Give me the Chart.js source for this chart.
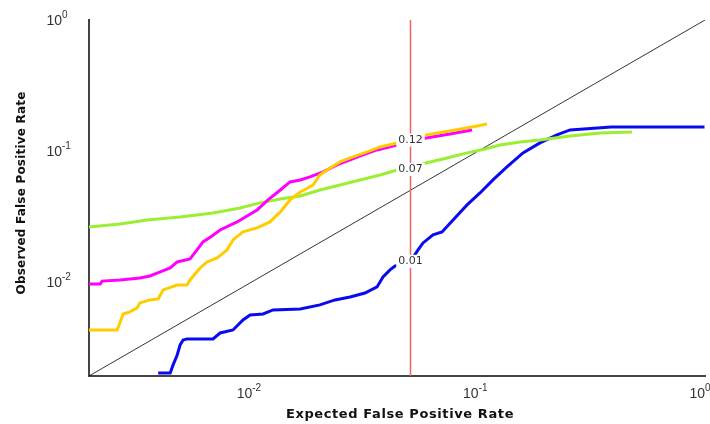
<!DOCTYPE html>
<html>
<head>
<meta charset="utf-8">
<script src="https://cdn.jsdelivr.net/npm/chart.js@4/dist/chart.umd.min.js"></script>
<style>
  html, body { margin: 0; padding: 0; background: #fff; }
  #wrap { width: 710px; height: 424px; position: relative; }
</style>
</head>
<body>
<div id="wrap"><canvas id="chart" width="710" height="424"></canvas></div>
<script>
// Axis range (both axes share it) and the nominal threshold
const AXIS_MIN = 0.0019;
const AXIS_MAX = 1;
const THRESHOLD = 0.05;

// Tick labels: value and exponent shown as 10^exp
const tickValues = [0.01, 0.1, 1];
const tickExponents = ['-2', '-1', '0'];

const xTitle = 'Expected False Positive Rate';
const yTitle = 'Observed False Positive Rate';

// Blue series
const blueX = [0.00384, 0.00434, 0.00447, 0.00466, 0.0048, 0.00495, 0.00515, 0.00671, 0.00721, 0.00822,
  0.0091, 0.00978, 0.01116, 0.01235, 0.0163, 0.0199, 0.02321, 0.02704, 0.03148, 0.03558,
  0.03781, 0.04059, 0.04274, 0.04731, 0.05, 0.054, 0.0568, 0.0629, 0.0689, 0.0771,
  0.0889, 0.1014, 0.1157, 0.1334, 0.157, 0.1866, 0.2219, 0.2535, 0.385, 0.995];
const blueY = [0.0020, 0.0020, 0.00231, 0.00275, 0.00328, 0.00358, 0.00365, 0.00365, 0.00405, 0.00427,
  0.00509, 0.00556, 0.00566, 0.00608, 0.00618, 0.00664, 0.00725, 0.00764, 0.00819, 0.00911,
  0.01086, 0.01229, 0.01318, 0.01341, 0.0143, 0.01747, 0.01976, 0.02275, 0.02399, 0.0296,
  0.03858, 0.04765, 0.0599, 0.0753, 0.0964, 0.1149, 0.1323, 0.1444, 0.1523, 0.1523];

// Green series
const greenX = [0.0019, 0.00261, 0.00343, 0.0048, 0.00671, 0.00883, 0.0108, 0.0133, 0.0163, 0.0199,
  0.0244, 0.0299, 0.0367, 0.0436, 0.05, 0.0586, 0.0725, 0.0889, 0.1067, 0.1242,
  0.1523, 0.1866, 0.2535, 0.3437, 0.4756];
const greenY = [0.0262, 0.0276, 0.0296, 0.0312, 0.0335, 0.0366, 0.0400, 0.0429, 0.0452, 0.0502,
  0.0548, 0.0599, 0.0654, 0.0714, 0.0720, 0.0808, 0.0882, 0.0964, 0.1034, 0.1109,
  0.1169, 0.1211, 0.1300, 0.1371, 0.1395];

// Magenta series
const magentaX = [0.0019, 0.00213, 0.00217, 0.00261, 0.00319, 0.00353, 0.00392, 0.00434, 0.00466, 0.00531,
  0.0057, 0.00606, 0.00664, 0.00721, 0.00857, 0.0105, 0.01174, 0.0133, 0.01468, 0.0163,
  0.01799, 0.02055, 0.02367, 0.02704, 0.03085, 0.03558, 0.04186, 0.05, 0.0586, 0.0747, 0.0935];
const magentaY = [0.0096, 0.0096, 0.0101, 0.0103, 0.01067, 0.01105, 0.01186, 0.01273, 0.01414, 0.01491,
  0.01747, 0.02011, 0.02235, 0.02485, 0.0286, 0.03532, 0.04213, 0.0502, 0.05783, 0.0599,
  0.06317, 0.06899, 0.07798, 0.08518, 0.09302, 0.1016, 0.1090, 0.1190, 0.1255, 0.1346, 0.1444];

// Yellow series
const yellowX = [0.0019, 0.00253, 0.00261, 0.00269, 0.00288, 0.0031, 0.00319, 0.00353, 0.00384, 0.00404,
  0.00466, 0.00515, 0.00531, 0.00588, 0.00631, 0.00699, 0.00773, 0.00822, 0.0091, 0.0105,
  0.01198, 0.0133, 0.01468, 0.0163, 0.01855, 0.0199, 0.02206, 0.0244, 0.02786, 0.03214,
  0.0367, 0.04186, 0.05, 0.0586, 0.0787, 0.0935, 0.1089];
const yellowY = [0.00427, 0.00427, 0.00492, 0.00566, 0.00587, 0.0063, 0.00688, 0.00725, 0.00738, 0.00864,
  0.00943, 0.00943, 0.0103, 0.01273, 0.01414, 0.01518, 0.01747, 0.02084, 0.02399, 0.02573,
  0.0286, 0.03411, 0.04213, 0.04849, 0.0548, 0.0654, 0.074, 0.08224, 0.08982, 0.0981,
  0.1071, 0.1129, 0.123, 0.1323, 0.1444, 0.1523, 0.1606];

const zip = (xs, ys) => xs.map((v, i) => ({ x: v, y: ys[i] }));

const series = [
  { xs: yellowX, ys: yellowY, color: '#FFCC00', order: 1 },
  { xs: magentaX, ys: magentaY, color: '#FF00FF', order: 2 },
  { xs: greenX, ys: greenY, color: '#9CEE33', order: 3 },
  { xs: blueX, ys: blueY, color: '#0A0AEE', order: 4 }
];

const datasets = series.map(s => ({
  data: zip(s.xs, s.ys),
  borderColor: s.color,
  backgroundColor: s.color,
  borderWidth: 3,
  pointRadius: 0,
  showLine: true,
  tension: 0,
  order: s.order
}));

// y = x reference diagonal
datasets.push({
  data: [{ x: AXIS_MIN, y: AXIS_MIN }, { x: AXIS_MAX, y: AXIS_MAX }],
  borderColor: '#000',
  borderWidth: 0.8,
  pointRadius: 0,
  showLine: true,
  order: 5
});

const FONT = "'Liberation Sans', Arial, sans-serif";
const WIDE = "'DejaVu Sans', Verdana, sans-serif";

const overlay = {
  id: 'overlay',
  afterDatasetsDraw(chart) {
    const { ctx, chartArea, scales: { x, y } } = chart;
    const tx = x.getPixelForValue(THRESHOLD);
    ctx.save();
    // threshold marker
    ctx.strokeStyle = '#F26464';
    ctx.lineWidth = 1.5;
    ctx.beginPath();
    ctx.moveTo(tx, chartArea.top);
    ctx.lineTo(tx, chartArea.bottom);
    ctx.stroke();

    // value of each series at the threshold, grouped by its printed text
    const groups = {};
    series.forEach(s => {
      const i = s.xs.indexOf(THRESHOLD);
      if (i < 0) return;
      const v = s.ys[i];
      const txt = v.toFixed(2);
      (groups[txt] = groups[txt] || []).push(v);
    });
    ctx.font = '11px ' + WIDE;
    ctx.textAlign = 'center';
    ctx.textBaseline = 'middle';
    Object.keys(groups).forEach(txt => {
      const vals = groups[txt];
      const py = vals.reduce((a, v) => a + y.getPixelForValue(v), 0) / vals.length;
      const w = ctx.measureText(txt).width + 4;
      ctx.fillStyle = '#fff';
      ctx.fillRect(tx - w / 2, py - 6.5, w, 13);
      ctx.fillStyle = '#333';
      ctx.fillText(txt, tx, py);
    });
    ctx.restore();
  },
  afterDraw(chart) {
    const { ctx, scales: { x, y } } = chart;
    ctx.save();
    ctx.fillStyle = '#333';
    ctx.textBaseline = 'middle';
    // x tick labels
    tickValues.forEach((v, i) => {
      const px = x.getPixelForValue(v);
      ctx.font = '14px ' + FONT;
      ctx.textAlign = 'right';
      ctx.fillText('10', px, 394);
      ctx.font = '10px ' + FONT;
      ctx.textAlign = 'left';
      ctx.fillText(tickExponents[i], px, 388);
    });
    // y tick labels
    tickValues.forEach((v, i) => {
      const py = y.getPixelForValue(v);
      ctx.font = '14px ' + FONT;
      ctx.textAlign = 'right';
      ctx.fillText('10', 62, py + 1.5);
      ctx.font = '10px ' + FONT;
      ctx.textAlign = 'left';
      ctx.fillText(tickExponents[i], 62, py - 4.5);
    });
    // axis titles
    ctx.fillStyle = '#111';
    ctx.textAlign = 'center';
    ctx.font = 'bold 13px ' + WIDE;
    ctx.letterSpacing = '0.6px';
    ctx.fillText(xTitle, 400, 415);
    ctx.translate(22, 193);
    ctx.rotate(-Math.PI / 2);
    ctx.font = 'bold 12px ' + WIDE;
    ctx.letterSpacing = '0.2px';
    ctx.fillText(yTitle, 0, 0);
    ctx.restore();
  }
};

const axisOpts = {
  type: 'logarithmic',
  min: AXIS_MIN,
  max: AXIS_MAX,
  ticks: { display: false },
  grid: { display: false, drawTicks: false },
  border: { display: true, color: '#444', width: 2 },
  title: { display: false }
};

new Chart(document.getElementById('chart'), {
  type: 'scatter',
  data: { datasets },
  options: {
    responsive: false,
    animation: false,
    layout: { padding: { left: 89, right: 5, top: 20, bottom: 48 } },
    plugins: { legend: { display: false }, tooltip: { enabled: false } },
    scales: { x: axisOpts, y: axisOpts }
  },
  plugins: [overlay]
});
</script>
</body>
</html>
